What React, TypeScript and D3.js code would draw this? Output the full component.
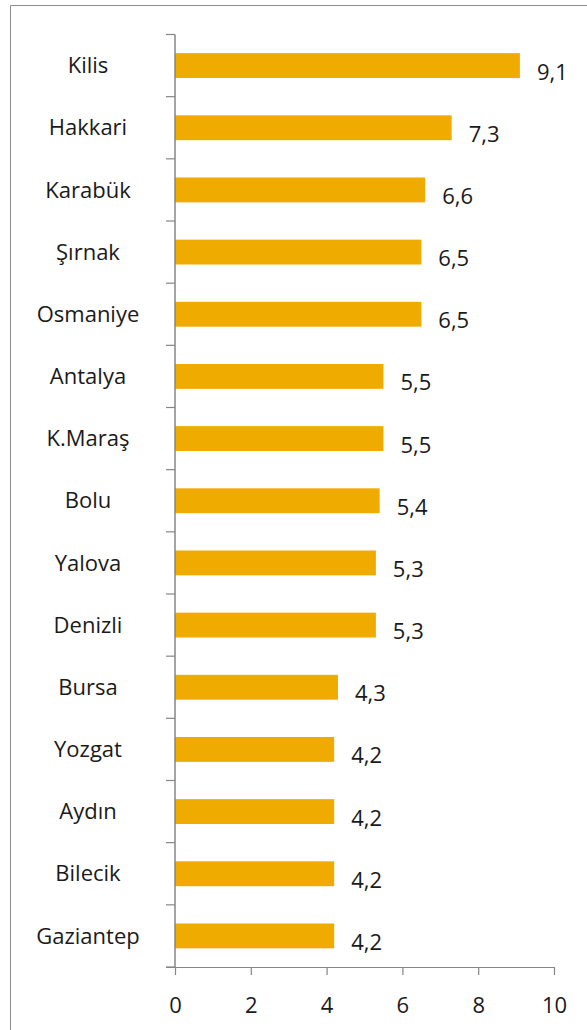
import React, { useEffect, useRef } from 'react';
import * as d3 from 'd3';

const provinces = ['Kilis', 'Hakkari', 'Karabük', 'Şırnak', 'Osmaniye', 'Antalya', 'K.Maraş', 'Bolu', 'Yalova', 'Denizli', 'Bursa', 'Yozgat', 'Aydın', 'Bilecik', 'Gaziantep'];
const rates = [9.1, 7.3, 6.6, 6.5, 6.5, 5.5, 5.5, 5.4, 5.3, 5.3, 4.3, 4.2, 4.2, 4.2, 4.2];
const xTicks = [0, 2, 4, 6, 8, 10];

const FONT = '"Open Sans", "DejaVu Sans", sans-serif';

const App = () => {
  const ref = useRef<SVGSVGElement>(null);

  useEffect(() => {
    const svg = d3.select(ref.current);
    svg.selectAll('*').remove();

    const data = provinces.map((name, i) => ({ name, value: rates[i] }));

    // chart area
    const left = 175, right = 554, top = 34.5, bottom = 967;

    const x = d3.scaleLinear().domain([0, 10]).range([left, right]);
    const y = d3.scaleBand<string>()
      .domain(provinces)
      .range([top, bottom])
      .paddingInner(0.6)
      .paddingOuter(0.3);

    // frame (only top and left edge visible)
    svg.append('line').attr('x1', 10.5).attr('x2', 587).attr('y1', 5.5).attr('y2', 5.5)
      .attr('stroke', '#8c8c8c').attr('stroke-width', 1);
    svg.append('line').attr('x1', 10.5).attr('x2', 10.5).attr('y1', 5.5).attr('y2', 1030)
      .attr('stroke', '#8c8c8c').attr('stroke-width', 1);

    // bars
    svg.selectAll('.bar')
      .data(data)
      .enter()
      .append('rect')
      .attr('class', 'bar')
      .attr('x', x(0))
      .attr('y', d => y(d.name)!)
      .attr('width', d => x(d.value) - x(0))
      .attr('height', y.bandwidth())
      .attr('fill', '#f0ab00');

    // value labels
    svg.selectAll('.val')
      .data(data)
      .enter()
      .append('text')
      .attr('class', 'val')
      .attr('x', d => x(d.value) + 17)
      .attr('y', d => y(d.name)! + y.bandwidth() / 2 + 14)
      .attr('font-family', FONT)
      .attr('font-size', 22)
      .attr('fill', '#1a1a1a')
      .text(d => d3.format('.1f')(d.value).replace('.', ','));

    // y axis: line + ticks at band boundaries
    const axisColor = '#868686';
    const step = y.step();
    const bounds = d3.range(provinces.length + 1).map(i => top + i * step);
    svg.append('line')
      .attr('x1', left).attr('x2', left).attr('y1', top).attr('y2', bottom)
      .attr('stroke', axisColor).attr('stroke-width', 1.5);
    svg.selectAll('.ytick')
      .data(bounds)
      .enter()
      .append('line')
      .attr('x1', left - 9).attr('x2', left)
      .attr('y1', d => d).attr('y2', d => d)
      .attr('stroke', axisColor).attr('stroke-width', 1.2);

    svg.selectAll('.cat')
      .data(data)
      .enter()
      .append('text')
      .attr('x', 88)
      .attr('y', d => y(d.name)! + y.bandwidth() / 2)
      .attr('dy', '0.35em')
      .attr('text-anchor', 'middle')
      .attr('font-family', FONT)
      .attr('font-size', 22)
      .attr('fill', '#1a1a1a')
      .text(d => d.name);

    // x axis
    const xAxis = svg.append('g')
      .attr('transform', `translate(0, ${bottom})`)
      .call(d3.axisBottom(x).tickValues(xTicks).tickSize(8).tickPadding(22).tickSizeOuter(0));
    xAxis.select('.domain').attr('stroke', axisColor).attr('stroke-width', 1.2)
      .attr('d', `M${left - 9},0.5H${right}`);
    xAxis.selectAll('.tick line').attr('stroke', axisColor).attr('stroke-width', 1.2);
    xAxis.selectAll('.tick text')
      .attr('font-family', FONT)
      .attr('font-size', 22)
      .attr('fill', '#1a1a1a');
  }, []);

  return (
    <svg ref={ref} width={587} height={1030}
      style={{ position: 'absolute', left: 0, top: 0, background: '#fff' }} />
  );
};

export default App;
